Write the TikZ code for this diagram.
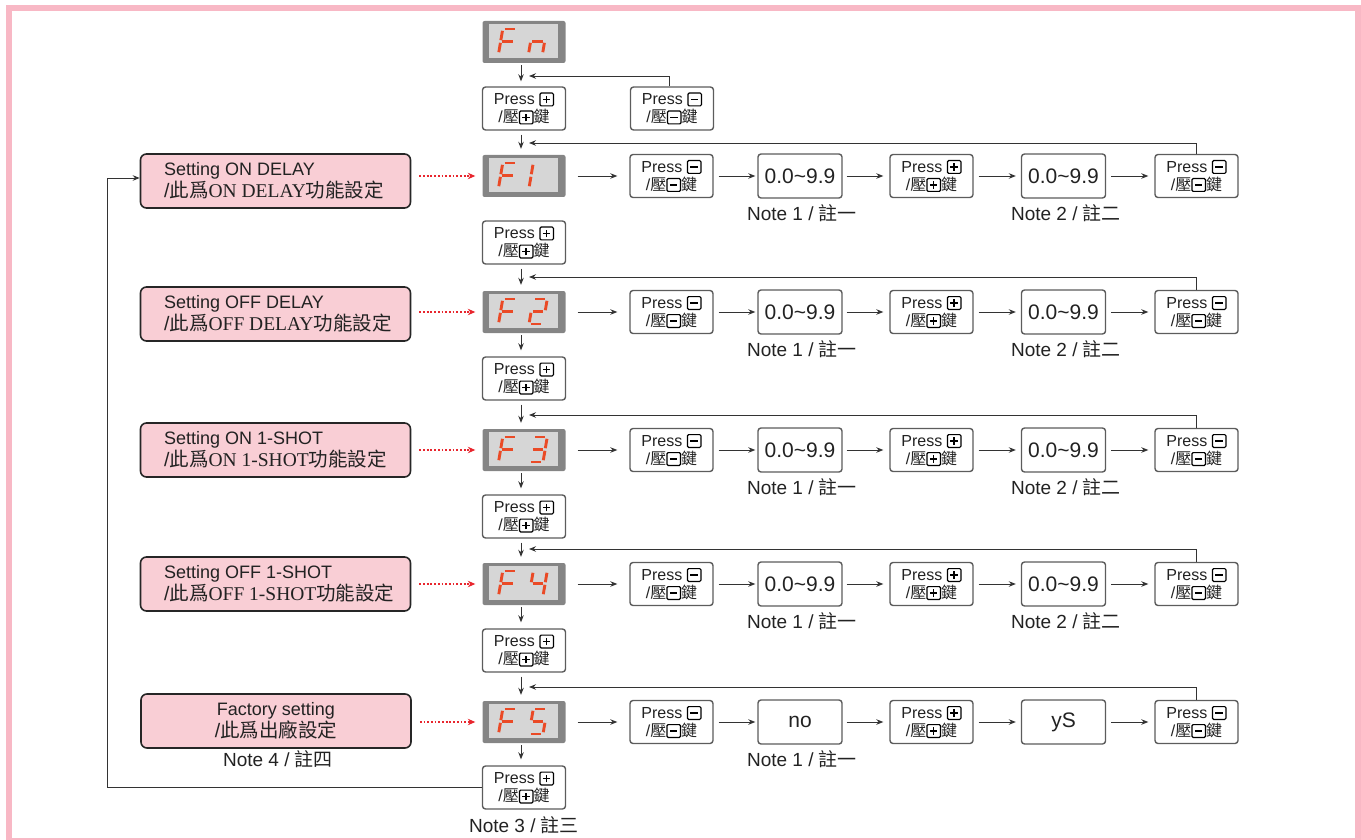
\documentclass[tikz,border=0pt]{standalone}
\usepackage{fontspec}
\setmainfont{Liberation Sans}
\newfontfamily\cjk{Noto Sans CJK TC}
\newfontfamily\tms{Liberation Serif}
\usetikzlibrary{arrows.meta,calc}
\definecolor{framepink}{HTML}{F8B8C5}
\definecolor{boxpink}{HTML}{F9CED5}
\definecolor{linegray}{HTML}{333333}
\definecolor{boxgray}{HTML}{5C5C5C}
\definecolor{dispout}{HTML}{858585}
\definecolor{dispin}{HTML}{D6D6D6}
\definecolor{segred}{HTML}{EA4A26}
\definecolor{dotred}{HTML}{E8262E}
\definecolor{txt}{HTML}{222222}
\newsavebox\kp
\newsavebox\km
\newcommand\keyframe{%
 \pgfsetbaseline{0pt}%
 \pgfsetlinewidth{1.2pt}%
 \pgfsetcornersarced{\pgfpoint{1.2pt}{1.2pt}}%
 \pgfpathrectangle{\pgfpoint{0pt}{-1.2pt}}{\pgfpoint{13.5pt}{12.8pt}}%
 \pgfusepath{stroke}%
 \pgfsetcornersarced{\pgfpointorigin}%
 \pgfsetlinewidth{1.5pt}%
 \pgfpathmoveto{\pgfpoint{3pt}{5.2pt}}\pgfpathlineto{\pgfpoint{10.5pt}{5.2pt}}}
\newcommand\pplus{Press \usebox\kp\\/{\cjk 壓}\usebox\kp{\cjk 鍵}}
\newcommand\pminus{Press \usebox\km\\/{\cjk 壓}\usebox\km{\cjk 鍵}}
\newcommand\SegA{\draw[seg] (1.8,-25)--(12.2,-25);}
\newcommand\SegB{\draw[seg] (14,-23.2)--(14,-13.8);}
\newcommand\SegC{\draw[seg] (14,-11.2)--(14,-1.8);}
\newcommand\SegD{\draw[seg] (1.8,0)--(12.2,0);}
\newcommand\SegE{\draw[seg] (0,-11.2)--(0,-1.8);}
\newcommand\SegF{\draw[seg] (0,-23.2)--(0,-13.8);}
\newcommand\SegG{\draw[seg] (1.8,-12.5)--(12.2,-12.5);}
\newcommand\segdigit[3]{\begin{scope}[shift={(#1,#2)},xslant=0.17]#3\end{scope}}
\begin{document}
\sbox\kp{\begin{pgfpicture}\keyframe
 \pgfpathmoveto{\pgfpoint{6.75pt}{1.4pt}}\pgfpathlineto{\pgfpoint{6.75pt}{9pt}}%
 \pgfusepath{stroke}\end{pgfpicture}}%
\sbox\km{\begin{pgfpicture}\keyframe
 \pgfusepath{stroke}\end{pgfpicture}}%
\begin{tikzpicture}[x=1pt,y=-1pt,
 pressbox/.style={draw=boxgray, line width=1.4pt, rounded corners=3pt, fill=white, minimum width=83pt, minimum height=43pt, inner sep=0pt, align=center, font=\fontsize{16}{18}\selectfont, text=txt},
 valbox/.style={pressbox, minimum width=84pt, minimum height=44pt, font=\fontsize{21}{24}\selectfont},
 pinkbox/.style={draw=black!85, line width=1.6pt, rounded corners=6pt, fill=boxpink, minimum width=270pt, minimum height=54pt, inner sep=0pt, align=center, font=\fontsize{18}{22}\selectfont, text=txt},
 pinktext/.style={anchor=west, inner sep=0pt, align=left, font=\fontsize{18}{22}\selectfont, text=txt},
 disp/.style={fill=dispout, rounded corners=2pt, minimum width=83pt, minimum height=42pt, inner sep=0pt},
 dispinner/.style={fill=dispin, minimum width=69pt, minimum height=34pt, inner sep=0pt},
 arr/.style={draw=linegray, line width=0.9pt, -{Stealth[length=7pt,width=5.5pt]}},
 redarr/.style={draw=dotred, line width=1.5pt, dash pattern=on 1.8pt off 1.9pt, -{Stealth[length=7.5pt,width=6.5pt]}},
 notetext/.style={font=\fontsize{19}{21}\selectfont, text=txt, inner sep=0pt},
 seg/.style={draw=segred, line width=2.9pt}]
\useasboundingbox (0,0) rectangle (1361,840);
\draw[framepink, line width=6pt] (9,8) rectangle (1357.5,841);

% top display Fn
\node[disp] (d0) at (524,42) {};
\node[dispinner] (d0i) at (523.5,41) {};
\segdigit{498.5}{54}{\SegA\SegE\SegF\SegG}
\segdigit{528.5}{54}{\SegC\SegE\SegG}
\node[pressbox] (q0) at (524,108.5) {\pplus};
\node[pressbox] (pm0) at (672,108.5) {\pminus};
\coordinate (r0) at (529,76);
\draw[arr, shorten <=2pt, shorten >=5pt] ([xshift=-3pt]d0.south) -- ([xshift=-3pt]q0.north);
\draw[arr] ([xshift=-3pt]pm0.north) |- (r0);

% rows 1-4
\foreach \i/\y/\pk/\ret/\ph/\dg in {1/176/181/143/{ON DELAY}/{\SegE\SegF}, 2/312/314/277/{OFF DELAY}/{\SegA\SegB\SegG\SegE\SegD}, 3/450/450/415/{ON 1-SHOT}/{\SegA\SegB\SegG\SegC\SegD}, 4/584/584/549/{OFF 1-SHOT}/{\SegF\SegG\SegB\SegC}} {
  \node[disp] (d\i) at (524,\y) {};
  \node[dispinner] (d\i i) at (523.5,{\y-1}) {};
  \segdigit{498.5}{\y+12}{\SegA\SegE\SegF\SegG}
  \segdigit{529}{\y+12}{\dg}
  \node[pressbox] (q\i) at (524,{\y+66.5}) {\pplus};
  \node[pressbox] (a\i) at (671.5,\y) {\pminus};
  \node[valbox] (b\i) at (800,\y) {0.0\char"007E 9.9};
  \node[pressbox] (c\i) at (931.5,\y) {\pplus};
  \node[valbox] (e\i) at (1063.5,\y) {0.0\char"007E 9.9};
  \node[pressbox] (f\i) at (1196.5,\y) {\pminus};
  \node[notetext] (n\i a) at (802,{\y+37}) {Note 1 / {\cjk 註一}};
  \node[notetext] (n\i b) at (1066,{\y+37}) {Note 2 / {\cjk 註二}};
  \node[pinkbox] (k\i) at (275.5,\pk) {};
  \node[pinktext] (t\i) at (164,\pk) {Setting \ph\\{\fontsize{19.5}{22}\selectfont /{\cjk 此爲}{\tms \ph}{\cjk 功能設定}}};
  \coordinate (r\i) at (529,\ret);
  \draw[redarr, shorten <=8pt, shorten >=7pt] (k\i.east |- d\i.west) -- (d\i.west);
  \draw[arr, shorten <=12pt, shorten >=12pt] (d\i.east) -- (a\i.west);
  \draw[arr, shorten <=5pt, shorten >=2pt] (a\i.east) -- (b\i.west);
  \draw[arr, shorten <=4pt, shorten >=6pt] (b\i.east) -- (c\i.west);
  \draw[arr, shorten <=5pt, shorten >=5pt] (c\i.east) -- (e\i.west);
  \draw[arr, shorten <=5pt, shorten >=6pt] (e\i.east) -- (f\i.west);
  \draw[arr] (f\i.north) |- (r\i);
}

% row 5
\node[disp] (d5) at (524,722) {};
\node[dispinner] (d5i) at (523.5,721) {};
\segdigit{498.5}{734}{\SegA\SegE\SegF\SegG}
\segdigit{529}{734}{\SegA\SegF\SegG\SegC\SegD}
\node[pressbox] (q5) at (524,787.5) {\pplus};
\node[pressbox] (a5) at (671.5,722) {\pminus};
\node[valbox] (b5) at (800,722) {no};
\node[pressbox] (c5) at (931.5,722) {\pplus};
\node[valbox] (e5) at (1063.5,722) {yS};
\node[pressbox] (f5) at (1196.5,722) {\pminus};
\node[notetext] (n5a) at (802,759) {Note 1 / {\cjk 註一}};
\node[pinkbox] (k5) at (276,721) {Factory setting\\{\fontsize{19.5}{22}\selectfont /{\cjk 此爲出廠設定}}};
\node[notetext] (n5c) at (278,759) {Note 4 / {\cjk 註四}};
\node[notetext] (n5d) at (524,825) {Note 3 / {\cjk 註三}};
\coordinate (r5) at (529,687);
\draw[redarr, shorten <=8pt, shorten >=7pt] (k5.east |- d5.west) -- (d5.west);
\draw[arr, shorten <=12pt, shorten >=12pt] (d5.east) -- (a5.west);
\draw[arr, shorten <=5pt, shorten >=2pt] (a5.east) -- (b5.west);
\draw[arr, shorten <=4pt, shorten >=6pt] (b5.east) -- (c5.west);
\draw[arr, shorten <=5pt, shorten >=5pt] (c5.east) -- (e5.west);
\draw[arr, shorten <=5pt, shorten >=6pt] (e5.east) -- (f5.west);
\draw[arr] (f5.north) |- (r5);

% vertical arrows
\foreach \i/\j in {0/1,1/2,2/3,3/4,4/5} {
  \draw[arr, shorten <=4pt, shorten >=6pt] ([xshift=-3pt]q\i.south) -- ([xshift=-3pt]d\j.north);
}
\foreach \i in {2,3,4,5} {
  \draw[arr, shorten <=2pt, shorten >=6pt] ([xshift=-3pt]d\i.south) -- ([xshift=-3pt]q\i.north);
}

% return loop to the first setting box
\coordinate (lc) at (107,178);
\draw[arr] (q5.west) -| (lc) -- (lc -| k1.west);
\end{tikzpicture}
\end{document}
